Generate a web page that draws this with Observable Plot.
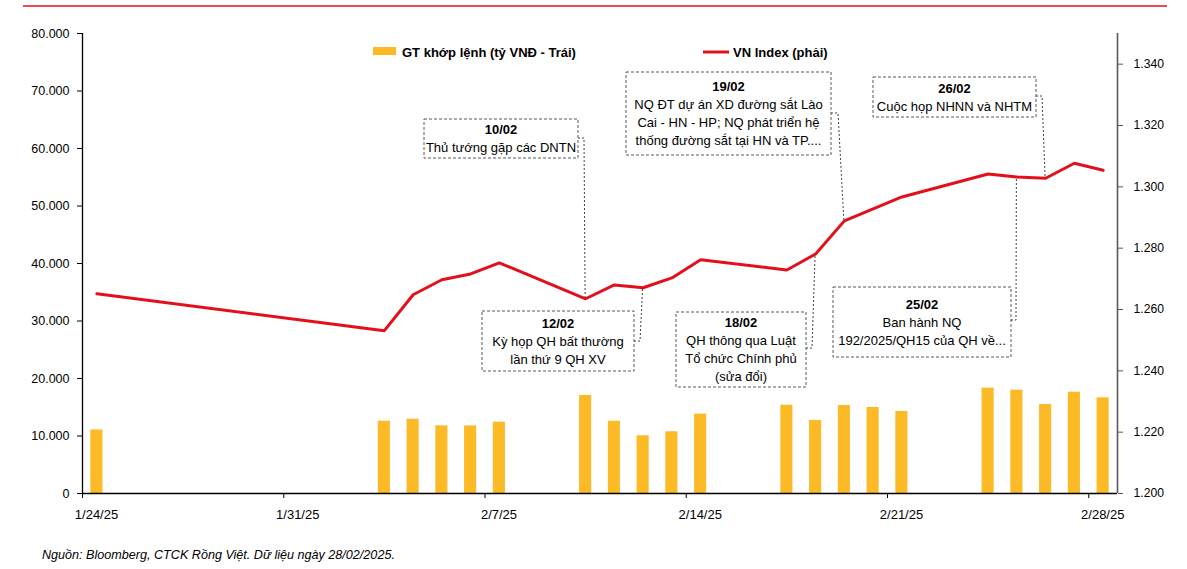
<!DOCTYPE html>
<html>
<head>
<meta charset="utf-8">
<script src="https://cdn.jsdelivr.net/npm/d3@7"></script>
<script src="https://cdn.jsdelivr.net/npm/@observablehq/plot@0.6"></script>
<style>
  html, body { margin: 0; padding: 0; background: #fff; }
  #chart { position: relative; width: 1187px; height: 569px; overflow: hidden; }
</style>
</head>
<body>
<div id="chart"></div>
<script>
// ---------- DATA ----------
const dates = [
  "2025-01-24",
  "2025-02-03", "2025-02-04", "2025-02-05", "2025-02-06", "2025-02-07",
  "2025-02-10", "2025-02-11", "2025-02-12", "2025-02-13", "2025-02-14",
  "2025-02-17", "2025-02-18", "2025-02-19", "2025-02-20", "2025-02-21",
  "2025-02-24", "2025-02-25", "2025-02-26", "2025-02-27", "2025-02-28"
];
// GT khớp lệnh (tỷ VNĐ) - left axis
const volume = [
  11050,
  12570, 12920, 11770, 11750, 12400,
  17040, 12570, 10030, 10730, 13800,
  15360, 12700, 15300, 14960, 14260,
  18320, 17970, 15480, 17620, 16640
];
// VN Index - right axis
const vnIndex = [
  1265.1,
  1253.1, 1264.8, 1269.7, 1271.6, 1275.2,
  1263.5, 1268.0, 1267.1, 1270.3, 1276.2,
  1272.9, 1278.1, 1288.9, 1292.8, 1296.7,
  1304.2, 1303.2, 1302.8, 1307.7, 1305.4
];
const leftTicks = [0, 10000, 20000, 30000, 40000, 50000, 60000, 70000, 80000];
const rightTicks = [1200, 1220, 1240, 1260, 1280, 1300, 1320, 1340];
const xTicks = ["2025-01-24", "2025-01-31", "2025-02-07", "2025-02-14", "2025-02-21", "2025-02-28"];
const xDomain = ["2025-01-24", "2025-03-01"];
const leftDomain = [0, 80000];
const rightDomain = [1200, 1350];

const annDates = ["2025-02-10", "2025-02-12", "2025-02-18", "2025-02-19", "2025-02-25", "2025-02-26"];
const annTitles = ["10/02", "12/02", "18/02", "19/02", "25/02", "26/02"];
const annTexts = [
  ["Thủ tướng gặp các DNTN"],
  ["Kỳ họp QH bất thường", "lần thứ 9 QH XV"],
  ["QH thông qua Luật", "Tổ chức Chính phủ", "(sửa đổi)"],
  ["NQ ĐT dự án XD đường sắt Lào", "Cai - HN - HP; NQ phát triển hệ", "thống đường sắt tại HN và TP...."],
  ["Ban hành NQ", "192/2025/QH15 của QH về..."],
  ["Cuộc họp NHNN và NHTM"]
];
const legendLabels = ["GT khớp lệnh (tỷ VNĐ - Trái)", "VN Index (phải)"];
const sourceNote = "Nguồn: Bloomberg, CTCK Rồng Việt. Dữ liệu ngày 28/02/2025.";

// ---------- LAYOUT / STYLE ----------
const W = 1187, H = 569;
const FONT = "'Liberation Sans', Arial, sans-serif";
const BAR = "#FBBA26";
const RED = "#E3101B";
// annotation boxes: [left, top, width, height, connectorY, elbowX]
const annBoxes = [
  [424, 119, 154, 39, 138, 584],
  [482, 311, 152, 60, 341, 640],
  [676, 312, 130, 75, 348, 812],
  [626, 72, 205, 83, 113, 838],
  [833, 287, 178, 70, 320, 1016],
  [873, 77, 163, 40, 96, 1042]
];

// ---------- HELPERS ----------
const DAY = 864e5;
const parse = s => new Date(s + "T00:00:00Z");
const loc = d3.formatLocale({decimal: ",", thousands: ".", grouping: [3], currency: ["", ""]});
const fmt = loc.format(",d");
const toLeft = v => (v - rightDomain[0]) / (rightDomain[1] - rightDomain[0]) * (leftDomain[1] - leftDomain[0]) + leftDomain[0];
const fromLeft = v => (v - leftDomain[0]) / (leftDomain[1] - leftDomain[0]) * (rightDomain[1] - rightDomain[0]) + rightDomain[0];
const dateFmt = d => `${d.getUTCMonth() + 1}/${d.getUTCDate()}/${String(d.getUTCFullYear()).slice(2)}`;

const rows = dates.map((d, i) => ({date: parse(d), vol: volume[i], vni: vnIndex[i]}));

const plot = Plot.plot({
  width: W,
  height: H,
  marginLeft: 82,
  marginRight: 70,
  marginTop: 33,
  marginBottom: 76,
  style: {fontFamily: FONT, fontSize: "12px", color: "#000", background: "#fff", overflow: "visible"},
  x: {type: "utc", domain: xDomain.map(parse)},
  y: {domain: leftDomain},
  marks: [
    Plot.rectY(rows, {
      x1: d => new Date(+d.date + 0.29 * DAY),
      x2: d => new Date(+d.date + 0.71 * DAY),
      y: "vol",
      fill: BAR
    }),
    Plot.line(rows, {
      x: d => new Date(+d.date + 0.5 * DAY),
      y: d => toLeft(d.vni),
      stroke: RED,
      strokeWidth: 3,
      strokeLinejoin: "miter"
    }),
    Plot.ruleX([parse(xDomain[0])], {stroke: "#000", strokeWidth: 1.3}),
    Plot.ruleX([parse(xDomain[1])], {stroke: "#595959", strokeWidth: 1.6}),
    Plot.ruleY([leftDomain[0]], {stroke: "#000", strokeWidth: 1.3}),
    Plot.axisY({anchor: "left", ticks: leftTicks, tickFormat: fmt, tickSize: 5, tickPadding: 8, label: null, stroke: "#000", fill: "#000", fontSize: 12.5}),
    Plot.axisY({anchor: "right", ticks: rightTicks.map(toLeft), tickFormat: v => fmt(Math.round(fromLeft(v))), tickSize: 5, tickPadding: 11, label: null, stroke: "#595959", fill: "#000", fontSize: 12.2}),
    // tick marks at the date boundaries
    Plot.axisX({ticks: xTicks.map(parse), tickFormat: () => "", tickSize: 5, label: null, stroke: "#000"}),
    // labels centred on the day, as in the reference
    Plot.axisX({ticks: xTicks.map(parse), tickFormat: dateFmt, tickSize: 0, tickPadding: 16, label: null, fill: "#000", fontSize: 13, dx: 14})
  ]
});

document.getElementById("chart").appendChild(plot);

// ---------- OVERLAYS (annotations, legend, header rule, source) ----------
const svg = d3.select(plot);
const sx = plot.scale("x"), sy = plot.scale("y");

// top red rule
svg.append("line").attr("x1", 23).attr("x2", 1167).attr("y1", 6).attr("y2", 6)
  .attr("stroke", RED).attr("stroke-width", 1.5);

// annotations
const g = svg.append("g").attr("font-family", FONT).attr("font-size", 13).attr("fill", "#000");
annDates.forEach((ds, i) => {
  const idx = dates.indexOf(ds);
  const px = sx.apply(new Date(+parse(ds) + 0.5 * DAY));
  const py = sy.apply(toLeft(vnIndex[idx]));
  const [bx, by, bw, bh, cy, ex] = annBoxes[i];
  g.append("path")
    .attr("d", `M${bx + bw},${cy}L${ex},${cy}L${px},${py}`)
    .attr("fill", "none").attr("stroke", "#404040").attr("stroke-width", 1)
    .attr("stroke-dasharray", "2,2");
  g.append("rect").attr("x", bx).attr("y", by).attr("width", bw).attr("height", bh)
    .attr("fill", "#fff").attr("stroke", "#595959").attr("stroke-width", 1)
    .attr("stroke-dasharray", "3,2");
  const lines = [annTitles[i], ...annTexts[i]];
  const mid = by + bh / 2;
  lines.forEach((t, j) => {
    const c = mid + (j - (lines.length - 1) / 2) * 18;
    g.append("text").attr("x", bx + bw / 2).attr("y", c + 4.7)
      .attr("text-anchor", "middle")
      .attr("font-weight", j === 0 ? "bold" : "normal")
      .text(t);
  });
});

// legend
const lg = svg.append("g").attr("font-family", FONT).attr("font-size", 13).attr("font-weight", "bold")
  .attr("fill", "#000").attr("text-anchor", "start");
lg.append("rect").attr("x", 373).attr("y", 47).attr("width", 23).attr("height", 8).attr("fill", BAR);
lg.append("text").attr("x", 402).attr("y", 56.5).attr("text-anchor", "start").text(legendLabels[0]);
lg.append("line").attr("x1", 703).attr("x2", 729).attr("y1", 52).attr("y2", 52).attr("stroke", RED).attr("stroke-width", 3);
lg.append("text").attr("x", 733).attr("y", 56.5).attr("text-anchor", "start").text(legendLabels[1]);

// source note
svg.append("text").attr("x", 42).attr("y", 559).attr("text-anchor", "start")
  .attr("font-family", FONT).attr("font-size", 12.6)
  .attr("font-style", "italic").attr("fill", "#000").text(sourceNote);
</script>
</body>
</html>
